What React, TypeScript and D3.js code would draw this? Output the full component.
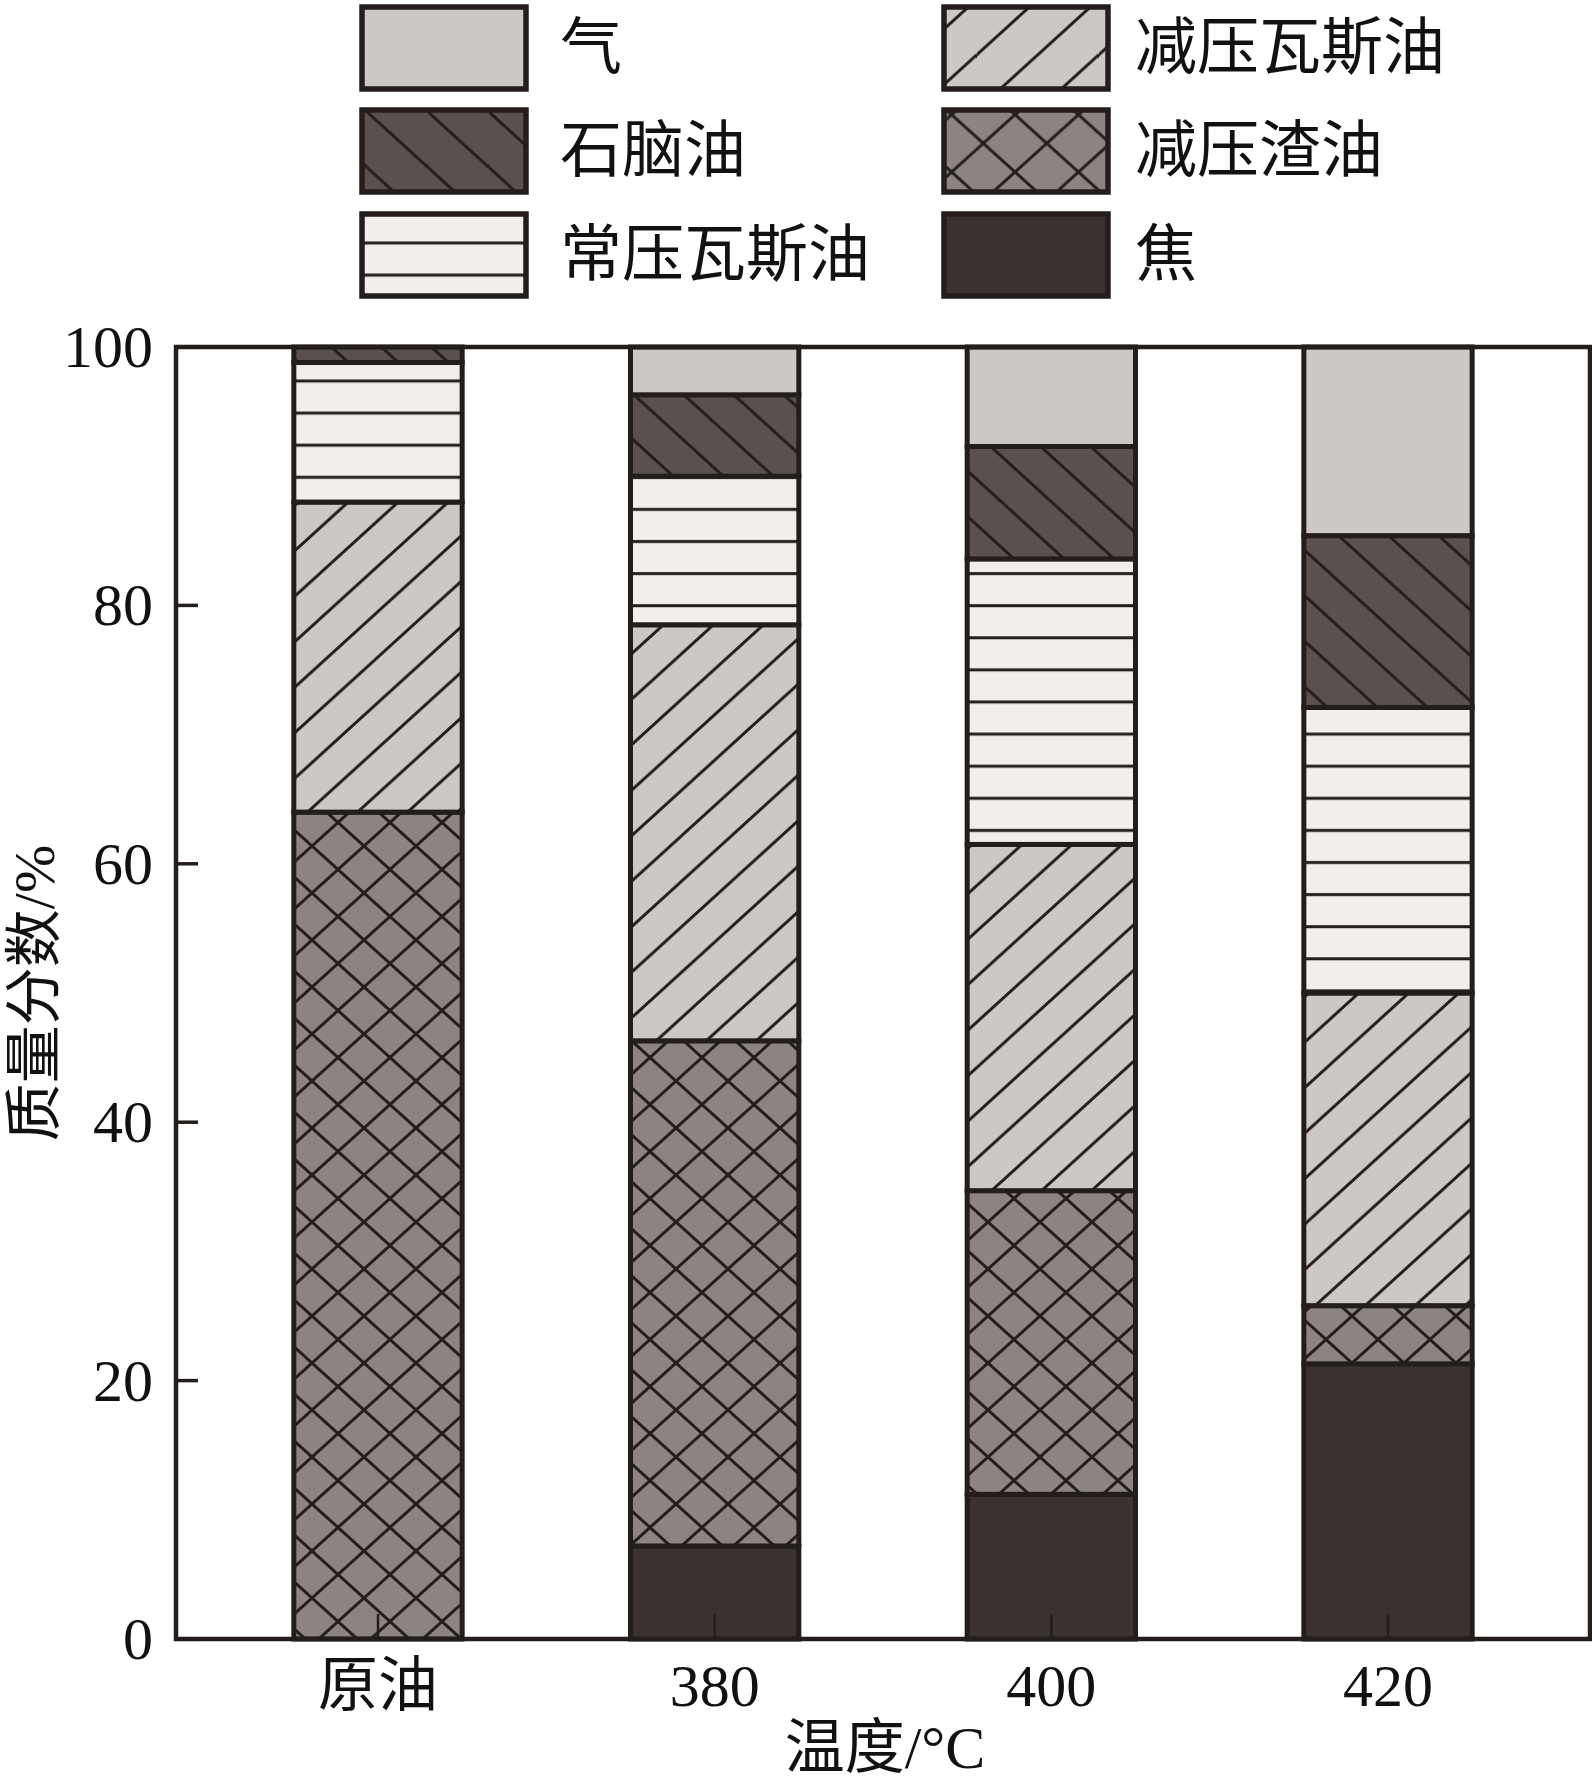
import React from "react";
import * as d3 from "d3";

// ---------- data ----------
const categories = ["原油", "380", "400", "420"];
const seriesKeys = ["coke", "vr", "vgo", "ago", "naphtha", "gas"];
const seriesLabels: Record<string, string> = {
  gas: "气",
  naphtha: "石脑油",
  ago: "常压瓦斯油",
  vgo: "减压瓦斯油",
  vr: "减压渣油",
  coke: "焦",
};
const coke = [0, 7.2, 11.2, 21.3];
const vacuumResidue = [64.0, 39.1, 23.5, 4.5];
const vacuumGasOil = [24.0, 32.2, 26.8, 24.2];
const atmosphericGasOil = [10.8, 11.5, 22.1, 22.1];
const naphtha = [1.2, 6.3, 8.7, 13.3];
const gas = [0, 3.7, 7.7, 14.6];
const yTicks = [0, 20, 40, 60, 80, 100];
const legendColumns = [
  ["gas", "naphtha", "ago"],
  ["vgo", "vr", "coke"],
];

const W = 1592;
const H = 1784;
const M = { left: 176, right: 1590, top: 347, bottom: 1639 };
const INK = "#231e1b";
const FONT = "'Liberation Serif', 'Noto Sans CJK SC', serif";

const fills: Record<string, string> = {
  gas: "#cdc8c5",
  naphtha: "#5a504d",
  ago: "#f1eeeb",
  vgo: "#cdc8c5",
  vr: "#8c8482",
  coke: "#3a3230",
};

function diagPath(w: number, h: number, dir: number) {
  let d = "";
  for (let m = -1; m <= 2; m++) {
    const c = m * h;
    if (dir > 0) {
      d += `M${-w},${c - h}L${2 * w},${c + 2 * h}`;
    } else {
      d += `M${-w},${c + h}L${2 * w},${c - 2 * h}`;
    }
  }
  return d;
}

function Patterns({ prefix, s, agoOffset }: { prefix: string; s: number; agoOffset: number }) {
  const w = 50 * s;
  const h = 45.5 * s;
  const cw = 52 * s;
  const ch = 47 * s;
  const lw = 3;
  return (
    <>
      <pattern id={`${prefix}-naphtha`} patternUnits="userSpaceOnUse" width={w} height={h}>
        <rect width={w} height={h} fill={fills.naphtha} />
        <path d={diagPath(w, h, 1)} stroke={INK} strokeWidth={lw} />
      </pattern>
      <pattern id={`${prefix}-vgo`} patternUnits="userSpaceOnUse" width={w} height={h}>
        <rect width={w} height={h} fill={fills.vgo} />
        <path d={diagPath(w, h, -1)} stroke={INK} strokeWidth={lw} />
      </pattern>
      <pattern id={`${prefix}-vr`} patternUnits="userSpaceOnUse" width={cw} height={ch}>
        <rect width={cw} height={ch} fill={fills.vr} />
        <path d={diagPath(cw, ch, 1)} stroke={INK} strokeWidth={lw} />
        <path d={diagPath(cw, ch, -1)} stroke={INK} strokeWidth={lw} />
      </pattern>
      <pattern id={`${prefix}-ago`} patternUnits="userSpaceOnUse" width={20} height={32.1}>
        <rect width={20} height={32.1} fill={fills.ago} />
        <line x1={-2} x2={22} y1={agoOffset} y2={agoOffset} stroke={INK} strokeWidth={lw} />
      </pattern>
    </>
  );
}

function fillFor(prefix: string, key: string) {
  if (key === "gas" || key === "coke") return fills[key];
  return `url(#${prefix}-${key})`;
}

export default function App() {
  const rows = categories.map((c, i) => ({
    category: c,
    coke: coke[i],
    vr: vacuumResidue[i],
    vgo: vacuumGasOil[i],
    ago: atmosphericGasOil[i],
    naphtha: naphtha[i],
    gas: gas[i],
  }));
  const stacked = d3.stack<any>().keys(seriesKeys)(rows);

  const x = d3
    .scaleBand<string>()
    .domain(categories)
    .range([M.left, M.right])
    .paddingInner(0.5)
    .paddingOuter(0.35);
  const y = d3.scaleLinear().domain([0, 100]).range([M.bottom, M.top]);

  const boxW = 164;
  const boxH = 82;
  const rowY = [7, 110, 214];
  const colX = [362, 944];
  const textX = [560, 1135];

  return (
    <svg
      width={W}
      height={H}
      style={{ position: "absolute", left: 0, top: 0, background: "#fff" }}
      fontFamily={FONT}
    >
      <defs>
        <Patterns prefix="bar" s={1} agoOffset={27.9} />
        <Patterns prefix="leg" s={1.22} agoOffset={18.3} />
      </defs>
      <rect width={W} height={H} fill="#fff" />

      {/* bars */}
      {stacked.map((layer) =>
        layer.map((d, i) => {
          const y0 = y(d[0]);
          const y1 = y(d[1]);
          if (d[1] - d[0] <= 0) return null;
          return (
            <rect
              key={layer.key + i}
              x={x(categories[i])}
              y={y1}
              width={x.bandwidth()}
              height={y0 - y1}
              fill={fillFor("bar", layer.key)}
              stroke={INK}
              strokeWidth={5}
            />
          );
        })
      )}

      {/* frame */}
      <rect
        x={M.left}
        y={M.top}
        width={M.right - M.left}
        height={M.bottom - M.top}
        fill="none"
        stroke={INK}
        strokeWidth={4.5}
      />

      {/* y ticks */}
      {yTicks.map((t) => (
        <g key={t}>
          <line x1={M.left} x2={M.left + 22} y1={y(t)} y2={y(t)} stroke={INK} strokeWidth={3.5} />
          <text
            x={153}
            y={y(t)}
            textAnchor="end"
            dominantBaseline="central"
            fontSize={60}
            fill="#111"
          >
            {t}
          </text>
        </g>
      ))}

      {/* x ticks */}
      {categories.map((c) => {
        const cx = (x(c) as number) + x.bandwidth() / 2;
        return (
          <g key={c}>
            <line x1={cx} x2={cx} y1={M.bottom} y2={M.bottom - 25} stroke={INK} strokeWidth={2.5} />
            <text x={cx} y={1706} textAnchor="middle" fontSize={60} fill="#111">
              {c}
            </text>
          </g>
        );
      })}

      {/* axis titles */}
      <text x={885} y={1768} textAnchor="middle" fontSize={60} fill="#111">
        温度/°C
      </text>
      <text
        transform={`translate(34, ${(M.top + M.bottom) / 2}) rotate(-90)`}
        textAnchor="middle"
        dominantBaseline="central"
        fontSize={58}
        fill="#111"
      >
        质量分数/%
      </text>

      {/* legend */}
      {legendColumns.map((col, ci) =>
        col.map((key, ri) => (
          <g key={key}>
            <rect
              x={colX[ci]}
              y={rowY[ri]}
              width={boxW}
              height={boxH}
              fill={fillFor("leg", key)}
              stroke={INK}
              strokeWidth={5.5}
            />
            <text
              x={textX[ci]}
              y={rowY[ri] + boxH / 2}
              dominantBaseline="central"
              fontSize={62}
              fill="#111"
            >
              {seriesLabels[key]}
            </text>
          </g>
        ))
      )}
    </svg>
  );
}
